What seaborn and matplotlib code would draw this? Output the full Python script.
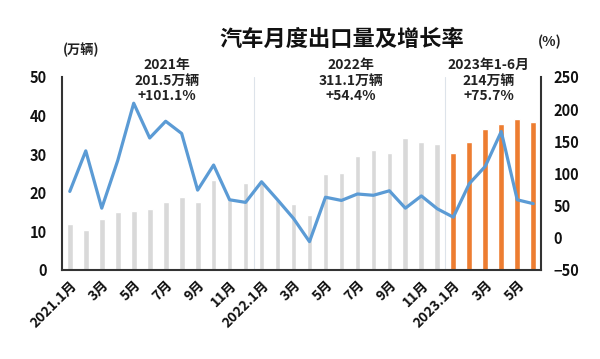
import matplotlib
matplotlib.use("Agg")
import matplotlib.pyplot as plt
import seaborn as sns
import pandas as pd

# --- data ---
months = [f"{y}.{m}" for y in (2021, 2022) for m in range(1, 13)] + [f"2023.{m}" for m in range(1, 7)]
tick_labels = ["2021.1月", "3月", "5月", "7月", "9月", "11月",
               "2022.1月", "3月", "5月", "7月", "9月", "11月",
               "2023.1月", "3月", "5月"]

exports_2021 = [12.0, 10.4, 13.1, 15.1, 15.2, 15.7, 17.5, 19.0, 17.6, 23.3, 18.1, 22.5]
exports_2022 = [22.5, 18.1, 17.2, 14.2, 24.9, 25.2, 29.4, 31.0, 30.3, 34.2, 33.1, 32.7]
exports_2023 = [30.4, 33.1, 36.6, 37.8, 39.2, 38.3]

growth_2021 = [72, 135, 46, 120, 209, 155, 181, 162, 74, 113, 59, 55]
growth_2022 = [87, 59, 30, -6, 63, 58, 68, 66, 73, 46, 65, 45]
growth_2023 = [32, 84, 111, 165, 59, 53]

notes = [
    (6.1, "2021年\n201.5万辆\n+101.1%"),
    (17.6, "2022年\n311.1万辆\n+54.4%"),
    (26.2, "2023年1-6月\n214万辆\n+75.7%"),
]

GRAY = "#d9d9d9"
ORANGE = "#ed7d31"
BLUE = "#5b9bd5"
DARK = "#333333"

sns.set_theme(style="white")
plt.rcParams["font.family"] = ["Noto Sans CJK SC", "DejaVu Sans"]
plt.rcParams["font.weight"] = "bold"

df = pd.DataFrame({
    "month": months,
    "exports": exports_2021 + exports_2022 + exports_2023,
    "growth": growth_2021 + growth_2022 + growth_2023,
    "group": ["old"] * 24 + ["new"] * 6,
})
df["pos"] = range(len(df))

fig = plt.figure(figsize=(6, 3.59), dpi=100)
ax = fig.add_axes([0.103, 0.248, 0.799, 0.538])

sns.barplot(data=df, x="month", y="exports", hue="group",
            palette={"old": GRAY, "new": ORANGE}, dodge=False, saturation=1,
            width=0.36, legend=False, ax=ax)
ax.set_xlim(-0.5, 29.5)
ax.set_ylim(0, 50)
ax.set_yticks(range(0, 51, 10))
ax.set_xticks(range(0, 30, 2))
ax.set_xticklabels(tick_labels, rotation=45, ha="right", rotation_mode="anchor",
                   fontsize=10, fontweight="bold", color="#111111")
ax.tick_params(axis="y", length=0, pad=11, labelsize=10.5, labelcolor="#111111")
ax.tick_params(axis="x", length=0, pad=6)
ax.set_xlabel("")
ax.set_ylabel("")
for lab in ax.get_yticklabels():
    lab.set_fontweight("bold")

# separators between years
for xs in (11.5, 23.5):
    ax.axvline(xs, color="#dde3ea", lw=0.8, zorder=0)

ax2 = ax.twinx()
sns.lineplot(data=df, x="pos", y="growth", color=BLUE, lw=2.3, ax=ax2)
ax2.set_ylim(-50, 250)
ax2.set_yticks(range(-50, 251, 50))
ax2.set_ylabel("")
ax2.tick_params(axis="y", length=0, pad=9, labelsize=10.5, labelcolor="#111111")
for lab in ax2.get_yticklabels():
    lab.set_fontweight("bold")

for a in (ax, ax2):
    for side, sp in a.spines.items():
        sp.set_visible(side in ("left", "bottom", "right"))
        sp.set_color(DARK)
        sp.set_linewidth(1.5)
ax.spines["right"].set_visible(False)
ax2.spines["left"].set_visible(False)
ax2.spines["bottom"].set_visible(False)

for x, txt in notes:
    ax.text(x, 0.98, txt, transform=ax.get_xaxis_transform(), ha="center",
            va="center", fontsize=10, fontweight="bold", color="#222222",
            linespacing=1.15, clip_on=False)

fig.text(0.57, 0.889, "汽车月度出口量及增长率", ha="center", va="center",
         fontsize=16, fontweight="bold", color="#111111")
fig.text(0.135, 0.861, "(万辆)", ha="center", va="center", fontsize=9.5,
         fontweight="bold", color="#222222")
fig.text(0.917, 0.882, "(%)", ha="center", va="center", fontsize=10,
         fontweight="bold", color="#222222")

fig.savefig("out.png", dpi=100)
